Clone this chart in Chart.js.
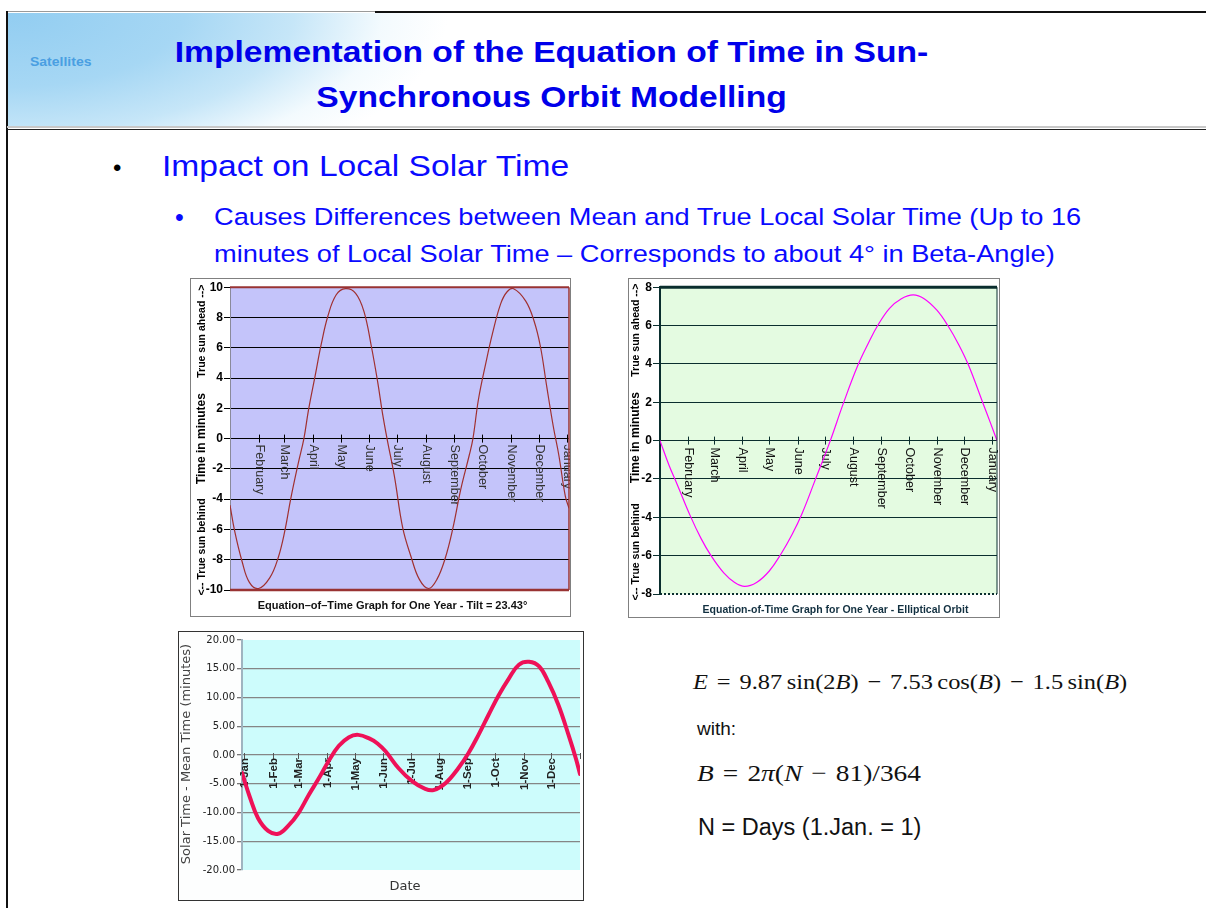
<!DOCTYPE html>
<html><head><meta charset="utf-8">
<script src="https://cdn.jsdelivr.net/npm/chart.js@4.4.0/dist/chart.umd.min.js"></script>
<style>
html,body{margin:0;padding:0;background:#fff;}
#page{position:relative;width:1206px;height:908px;overflow:hidden;font-family:"Liberation Sans",Arial,sans-serif;}
.a{position:absolute;white-space:nowrap;}
#hdrbg{left:8px;top:13px;width:1198px;height:115px;
 background:radial-gradient(ellipse 440px 185px at 0px 0px, #92cdf1 0%, #a6d7f4 40%, #c6e6f8 65%, rgba(235,247,253,0.6) 85%, rgba(255,255,255,0) 100%);}
#title{left:0;top:29px;width:1103px;text-align:center;color:#0000ea;font-weight:bold;font-size:30px;line-height:45px;transform:scaleX(1.12);transform-origin:551.5px 0;}
#sat{left:30px;top:54px;font-weight:bold;font-size:12.5px;line-height:16px;color:#4a9fe2;transform:scaleX(1.12);transform-origin:0 0;}
.b1{left:162px;top:148px;font-size:30px;line-height:36px;color:#0a0aff;transform:scaleX(1.12);transform-origin:0 0;}
.b2{left:214px;top:198px;font-size:24.5px;line-height:37px;color:#0a0aff;transform:scaleX(1.11);transform-origin:0 0;}
.dot{font-size:24px;line-height:24px;}
.frame{box-sizing:border-box;border:1px solid #808080;background:#fff;}
.inner{position:absolute;left:0;top:0;}
.math{font-family:"Liberation Serif","Times New Roman",serif;color:#111;transform-origin:0 0;}
.math i{font-style:italic;}
.op{display:inline-block;margin:0 8px;}
.th{display:inline-block;width:4px;}
</style></head><body><div id="page">

<div class="a" id="hdrbg"></div>
<div class="a" style="left:7px;top:11px;width:368px;height:1px;background:#9a9a9a"></div>
<div class="a" style="left:375px;top:11px;width:831px;height:2px;background:#111"></div>
<div class="a" style="left:6px;top:11px;width:2px;height:897px;background:#111"></div>
<div class="a" style="left:7px;top:126px;width:1199px;height:2px;background:#c8c8c8"></div>
<div class="a" style="left:7px;top:129px;width:1199px;height:1px;background:#222"></div>

<div class="a" id="sat">Satellites</div>
<div class="a" id="title"><div>Implementation of the Equation of Time in Sun-</div><div>Synchronous Orbit Modelling</div></div>

<div class="a dot" style="left:113px;top:156px;color:#000">•</div>
<div class="a b1">Impact on Local Solar Time</div>
<div class="a dot" style="left:175px;top:205px;color:#0a0aff;font-size:25px">•</div>
<div class="a b2">Causes Differences between Mean and True Local Solar Time (Up to 16<br>minutes of Local Solar Time – Corresponds to about 4° in Beta-Angle)</div>

<div class="a frame" style="left:190px;top:278px;width:381px;height:339px;"><div class="inner" style="width:379px;height:337px;"><canvas id="c1"></canvas></div></div>
<div class="a frame" style="left:628px;top:278px;width:372px;height:340px;"><div class="inner" style="width:370px;height:338px;"><canvas id="c2"></canvas></div></div>
<div class="a frame" style="left:178px;top:631px;width:406px;height:270px;border-color:#333;background:#fdfefe"><div class="inner" style="width:404px;height:268px;"><canvas id="c3"></canvas></div></div>

<div class="a math" style="left:693px;top:668px;font-size:22px;line-height:28px;transform:scaleX(1.11);"><i>E</i><span class="op">=</span>9.87<span class="th"></span>sin(2<i>B</i>)<span class="op">−</span>7.53<span class="th"></span>cos(<i>B</i>)<span class="op">−</span>1.5<span class="th"></span>sin(<i>B</i>)</div>
<div class="a" style="left:697px;top:718px;font-size:19px;line-height:22px;color:#111">with:</div>
<div class="a math" style="left:697px;top:758px;font-size:24px;line-height:30px;transform:scaleX(1.14);"><i>B</i><span class="op">=</span>2<i>π</i>(<i>N</i><span class="op">−</span>81)/364</div>
<div class="a" style="left:698px;top:813px;font-size:23.5px;line-height:28px;color:#111">N = Days (1.Jan. = 1)</div>

</div>
<script>
// ---------- data ----------
const monthTickDays = [31, 59, 90, 120, 151, 181, 212, 243, 273, 304, 334, 365];
const monthNames = ['February','March','April','May','June','July','August','September','October','November','December','January'];
const monthStartDays3 = [0, 31, 59, 90, 120, 151, 181, 212, 243, 273, 304, 334, 365];
const monthShort3 = ['1-Jan','1-Feb','1-Mar','1-Apr','1-May','1-Jun','1-Jul','1-Aug','1-Sep','1-Oct','1-Nov','1-Dec',''];

const tiltTicks = [-10,-8,-6,-4,-2,0,2,4,6,8,10];
const tiltDays   = [0,5,13,21,31,43,52,59,66,74,80,85,92,99,106,115,125,136,145,153,160,165,170,178,187,196,205,215,224,233,241,250,259,263,269,277,284,293,300,307,320,329,336,343,350,356,363,367];
const tiltValues = [-4.4,-6.1,-8.1,-9.5,-9.9,-9.2,-7.9,-6.2,-3.9,-1.6,0,1.9,4.1,6.3,8.1,9.5,9.9,9.6,8.4,6.1,3.7,1.7,0,-2.5,-5.9,-7.8,-9.3,-9.9,-9.3,-7.9,-6.0,-3.3,-1.1,0,2.6,5.0,6.9,8.9,9.7,9.9,9.1,7.8,6.1,3.4,0.8,-1.1,-3.8,-4.6];

const orbitDays   = [0,10,19,33,45,56,70,82,93,106,120,133,145,156,170,187,201,217,229,239,252,265,278,290,304,316,328,339,355,363,370];
const orbitValues = [0,-1.3,-2.3,-3.9,-5.1,-6.0,-6.9,-7.4,-7.6,-7.4,-6.8,-5.9,-4.9,-3.8,-2.1,0,1.9,3.9,5.1,6.0,6.9,7.4,7.6,7.4,6.8,6.0,5.0,3.9,1.9,0.9,0];

const eotDays   = [-2.5,6,15,26,37,48,59,70,81,92,103,114,124,137,145,154,168,183,197,206,219,233,244,255,266,277,288,299,310,321,331,342,353,361,365.5];
const eotValues = [-3.1,-7.3,-11.0,-13.2,-13.7,-12.3,-10.1,-7.0,-4.1,-1.0,1.6,3.1,3.5,2.8,2.0,0.6,-2.3,-4.6,-5.9,-6.1,-4.9,-2.3,0.3,3.5,7.0,10.4,13.3,15.7,16.2,15.4,12.7,8.7,3.5,-0.6,-3.3];

// ---------- helpers ----------
const pts = (xs, ys) => xs.map((x, i) => ({x, y: ys[i]}));
function bgPlugin(color){ return { id:'bg', beforeDraw(chart){ const a=chart.chartArea, c=chart.ctx; c.save(); c.fillStyle=color; c.fillRect(a.left,a.top,a.right-a.left,a.bottom-a.top); c.restore(); } }; }
function monthAxisPlugin(cfg){
  return { id:'months', beforeDatasetsDraw(chart){
    const c=chart.ctx, x=chart.scales.x, y=chart.scales.y, y0=y.getPixelForValue(0);
    c.save(); c.strokeStyle=cfg.tickColor; c.lineWidth=1; c.font=cfg.font; c.fillStyle=cfg.textColor; c.textBaseline='middle';
    cfg.days.forEach((d,i)=>{
      const px=Math.round(x.getPixelForValue(d))+0.5;
      c.beginPath(); c.moveTo(px,y0-cfg.up); c.lineTo(px,y0+cfg.down); c.stroke();
      const lab=cfg.labels[i]; if(!lab) return;
      c.save(); c.translate(px, y0+cfg.offset);
      if(cfg.clockwise){ c.rotate(Math.PI/2); c.textAlign='left'; } else { c.rotate(-Math.PI/2); c.textAlign='right'; }
      c.fillText(lab,0,0); c.restore();
    });
    c.restore(); } };
}
function textPlugin(items){
  return { id:'texts', afterDraw(chart){
    const a=chart.chartArea, c=chart.ctx;
    items.forEach(it=>{ const p=it.pos(a); c.save(); c.font=it.font; c.fillStyle=it.color; c.textAlign='center'; c.textBaseline='middle';
      c.translate(p[0],p[1]); if(it.rot) c.rotate(it.rot); c.fillText(it.text,0,0); c.restore(); });
  } };
}
function borderPlugin(lines){
  return { id:'borders', afterDatasetsDraw(chart){
    const a=chart.chartArea, c=chart.ctx;
    lines.forEach(l=>{ c.save(); c.strokeStyle=l.color; c.lineWidth=l.width; c.setLineDash(l.dash||[]); c.beginPath();
      if(l.side==='top'){ c.moveTo(a.left,a.top); c.lineTo(a.right,a.top); }
      if(l.side==='bottom'){ c.moveTo(a.left,a.bottom); c.lineTo(a.right,a.bottom); }
      if(l.side==='right'){ c.moveTo(a.right,a.top); c.lineTo(a.right,a.bottom); }
      c.stroke(); c.restore(); });
  } };
}
const axisTitleFont = 'bold 10.5px "Liberation Sans Narrow","Liberation Sans",Arial,sans-serif';
const axisMidFont = 'bold 12px "Liberation Sans Narrow","Liberation Sans",Arial,sans-serif';

// ---------- chart 1 : tilt ----------
new Chart(document.getElementById('c1'), {
  type:'line',
  data:{ datasets:[{ data: pts(tiltDays, tiltValues), borderColor:'#a03030', borderWidth:1.2, pointRadius:0, tension:0.4, fill:false }] },
  options:{
    responsive:true, maintainAspectRatio:false, animation:false,
    layout:{ autoPadding:false, padding:{left:0, top:6, right:1, bottom:26} },
    plugins:{ legend:{display:false}, tooltip:{enabled:false} },
    scales:{
      x:{ type:'linear', min:0, max:367, display:false },
      y:{ min:-10, max:10, afterBuildTicks: s => { s.ticks = tiltTicks.map(v=>({value:v})); },
          ticks:{ color:'#000', padding:1, font:{family:'"Liberation Sans",Arial', size:12, weight:'bold'} },
          grid:{ color: c => (Math.abs(c.tick.value)===10 ? 'rgba(0,0,0,0)' : '#000'), tickColor:'#000', tickLength:6, lineWidth:1 },
          border:{ color:'#8a8a9a', width:1 },
          afterFit: s => { s.width = 39; } }
    }
  },
  plugins:[ bgPlugin('#c4c4fa'),
    monthAxisPlugin({ days:monthTickDays, labels:monthNames, clockwise:true, offset:6, up:4, down:4, tickColor:'#000', textColor:'#333', font:'12.5px "Liberation Sans",Arial,sans-serif' }),
    borderPlugin([{side:'top',color:'#993333',width:2},{side:'bottom',color:'#993333',width:2.5},{side:'right',color:'#993333',width:1.5}]),
    textPlugin([
      {text:'True sun ahead -->', font:axisTitleFont, color:'#000', rot:-Math.PI/2, pos:a=>[a.left-28, a.top+44]},
      {text:'Time in minutes', font:axisMidFont, color:'#000', rot:-Math.PI/2, pos:a=>[a.left-28, (a.top+a.bottom)/2]},
      {text:'<-- True sun behind', font:axisTitleFont, color:'#000', rot:-Math.PI/2, pos:a=>[a.left-28, a.bottom-43]},
      {text:'Equation–of–Time Graph for One Year - Tilt = 23.43°', font:'bold 11px "Liberation Sans",Arial,sans-serif', color:'#111', pos:a=>[(a.left+a.right)/2-7, a.bottom+16]}
    ]) ]
});

// ---------- chart 2 : elliptical orbit ----------
new Chart(document.getElementById('c2'), {
  type:'line',
  data:{ datasets:[{ data: pts(orbitDays, orbitValues), borderColor:'#ff00ff', borderWidth:1.2, pointRadius:0, tension:0.4, fill:false }] },
  options:{
    responsive:true, maintainAspectRatio:false, animation:false,
    layout:{ autoPadding:false, padding:{left:0, top:8, right:2, bottom:23} },
    plugins:{ legend:{display:false}, tooltip:{enabled:false} },
    scales:{
      x:{ type:'linear', min:0, max:370, display:false },
      y:{ min:-8, max:8, ticks:{ stepSize:2, color:'#000', padding:1, font:{family:'"Liberation Sans",Arial', size:12, weight:'bold'} },
          grid:{ color: c => (Math.abs(c.tick.value)===8 ? 'rgba(0,0,0,0)' : '#0a2e2e'), tickColor:'#0a2e2e', tickLength:7, lineWidth:1 },
          border:{ color:'#0a2e2e', width:2 },
          afterFit: s => { s.width = 31; } }
    }
  },
  plugins:[ bgPlugin('#e4fbe1'),
    monthAxisPlugin({ days:monthTickDays, labels:monthNames, clockwise:true, offset:7, up:4, down:4, tickColor:'#0a2e2e', textColor:'#111', font:'12.5px "Liberation Sans",Arial,sans-serif' }),
    borderPlugin([{side:'top',color:'#0a2e2e',width:3},{side:'bottom',color:'#0a2e2e',width:2,dash:[2,2]},{side:'right',color:'#0a2e2e',width:1}]),
    textPlugin([
      {text:'True sun ahead -->', font:axisTitleFont, color:'#000', rot:-Math.PI/2, pos:a=>[a.left-24, a.top+43]},
      {text:'Time in minutes', font:axisMidFont, color:'#000', rot:-Math.PI/2, pos:a=>[a.left-24, (a.top+a.bottom)/2-3]},
      {text:'<-- True sun behind', font:axisTitleFont, color:'#000', rot:-Math.PI/2, pos:a=>[a.left-24, a.bottom-42]},
      {text:'Equation-of-Time Graph for One Year - Elliptical Orbit', font:'bold 10.5px "Liberation Sans",Arial,sans-serif', color:'#123040', pos:a=>[(a.left+a.right)/2+7, a.bottom+16]}
    ]) ]
});

// ---------- chart 3 : solar - mean time ----------
new Chart(document.getElementById('c3'), {
  type:'line',
  data:{ datasets:[{ data: pts(eotDays, eotValues), borderColor:'#ee1158', borderWidth:4, pointRadius:0, tension:0.4, fill:false, borderCapStyle:'round', borderJoinStyle:'round' }] },
  options:{
    responsive:true, maintainAspectRatio:false, animation:false,
    layout:{ autoPadding:false, padding:{left:0, top:8, right:3, bottom:30} },
    plugins:{ legend:{display:false}, tooltip:{enabled:false} },
    scales:{
      x:{ type:'linear', min:-2.5, max:365.5, display:false },
      y:{ min:-20, max:20, ticks:{ stepSize:5, color:'#222', padding:2, font:{family:'"DejaVu Sans",Verdana', size:10}, callback:v=>Number(v).toFixed(2) },
          grid:{ color: c => (Math.abs(c.tick.value)===20 ? 'rgba(0,0,0,0)' : '#858585'), tickColor:'#777', tickLength:5, lineWidth:1.3 },
          border:{ color:'#9fb4c0', width:2 },
          afterFit: s => { s.width = 63; } }
    }
  },
  plugins:[ bgPlugin('#cdfcfc'),
    monthAxisPlugin({ days:monthStartDays3, labels:monthShort3, clockwise:false, offset:3, up:2, down:4, tickColor:'#555', textColor:'#222', font:'bold 11.5px "Liberation Sans",Arial,sans-serif' }),
    textPlugin([
      {text:'Solar Time - Mean Time (minutes)', font:'13px "DejaVu Sans",Verdana,sans-serif', color:'#444', rot:-Math.PI/2, pos:a=>[a.left-55, (a.top+a.bottom)/2-1]},
      {text:'Date', font:'13px "DejaVu Sans",Verdana,sans-serif', color:'#333', pos:a=>[(a.left+a.right)/2-6, a.bottom+17]}
    ]) ]
});
</script>
</body></html>
